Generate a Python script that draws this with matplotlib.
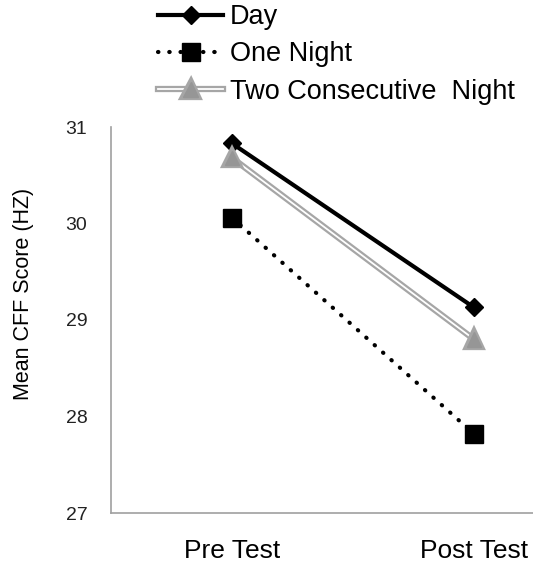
import matplotlib
matplotlib.use("Agg")
import matplotlib.pyplot as plt
import matplotlib.patheffects as pe

categories = ["Pre Test", "Post Test"]
day = [30.83, 29.13]
one_night = [30.06, 27.82]
two_nights = [30.68, 28.80]
series_names = ["Day", "One Night", "Two Consecutive  Night"]
yticks = [27, 28, 29, 30, 31]

plt.rcParams['font.family'] = ['Liberation Sans', 'DejaVu Sans']

W, H = 533, 563
fig = plt.figure(figsize=(W / 100, H / 100), dpi=100)
left, right, bottom, top = 111, 533, 513, 127
ax = fig.add_axes([left / W, (H - bottom) / H, (right - left) / W, (bottom - top) / H])

x = list(range(len(categories)))

ax.plot(x, day, color='black', lw=3, marker='D', ms=9, mfc='black', mec='black',
        label=series_names[0], zorder=3)
ax.plot(x, one_night, color='black', lw=3, ls=(0, (0.1, 2.6)), dash_capstyle='round',
        marker='s', ms=13, mfc='black', mec='black', label=series_names[1], zorder=3)
ax.plot(x, two_nights, color='white', lw=1.3, marker='^', ms=10.5, mfc='#969696', mec='#969696',
        label=series_names[2], zorder=3,
        path_effects=[pe.Stroke(linewidth=4.5, foreground='#a6a6a6'), pe.Normal()])

ax.set_xlim(-0.5, (right - 232) / 242)
ax.set_ylim(27, 31)
ax.set_xticks(x)
ax.set_xticklabels(categories, fontsize=19)
ax.set_yticks(yticks)
ax.set_yticklabels([str(v) for v in yticks], fontsize=14, color='#222222')
ax.tick_params(axis='both', length=0)
ax.tick_params(axis='y', pad=17)
ax.tick_params(axis='x', pad=19)
for s in ['top', 'right']:
    ax.spines[s].set_visible(False)
for s in ['left', 'bottom']:
    ax.spines[s].set_color('#a0a0a0')
    ax.spines[s].set_linewidth(1.2)

ax.set_ylabel("Mean CFF Score (HZ)", fontsize=15.5)
ax.yaxis.set_label_coords(-(left - 24) / (right - left), (bottom - 294) / (bottom - top))
ax.yaxis.label.set_va('center')

fs = 19.5
leg = fig.legend(loc='upper left', bbox_to_anchor=(158 / W, 1 - 4 / H), frameon=False,
                 fontsize=fs, handlelength=65 / (fs * 100 / 72), handletextpad=0.25,
                 labelspacing=0.42, borderaxespad=0, borderpad=0)

fig.savefig("out.png", dpi=100)
